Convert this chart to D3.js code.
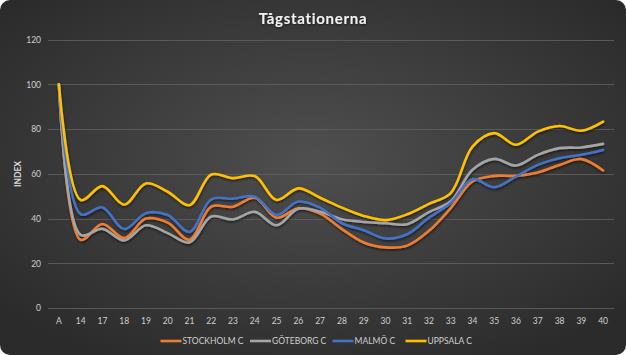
<!DOCTYPE html>
<html><head><meta charset="utf-8">
<script src="https://cdn.jsdelivr.net/npm/d3@7/dist/d3.min.js"></script>
<style>
html,body{margin:0;padding:0;background:#fff;}
svg{display:block;}
</style></head>
<body>
<svg id="chart" width="626" height="355"></svg>
<script>
const categories = ["A","14","17","18","19","20","21","22","23","24","25","26","27","28","29","30","31","32","33","34","35","36","37","38","39","40"];
const stockholm = [100,30.5,37.6,31.3,40,38.2,30.5,45.3,45.3,49.3,40.4,44.6,42.2,35.3,29.3,27.1,27.9,34.5,44.7,56.6,59.1,59.1,60.6,64,66.6,61.5];
const goteborg  = [100,32.7,35.4,30.2,37,33.5,29.3,40.9,39.6,43,37,44.4,43,39.7,38.5,37.9,37.5,42.9,47.7,61.8,66.7,63.7,68.5,71.5,71.8,73.4];
const malmo     = [100,42,45,35.3,42.4,41.6,34,48.6,48.9,49.8,41.6,47.6,44.9,37.9,34.8,31.1,33,40.4,47,57.6,54,58.8,64,67,68.5,70.7];
const uppsala   = [100,48.3,54.5,46.2,55.7,52,46,59.7,58.1,59,48.3,53.5,49.3,44.9,41.2,39.3,41.9,46.6,51.4,72.2,78.2,73,78.9,81.4,79.3,83.4];
const seriesNames = ["STOCKHOLM C","GÖTEBORG C","MALMÖ C","UPPSALA C"];
const seriesValues = [stockholm, goteborg, malmo, uppsala];
const seriesColors = ["#ED7D31","#A5A5A5","#4472C4","#FFC000"];
const yTicks = [0,20,40,60,80,100,120];
const title = "Tågstationerna";
const yTitle = "INDEX";

(function(){
const W = 626, H = 355;
const svg = d3.select("#chart");
const defs = svg.append("defs");
const grad = defs.append("radialGradient").attr("id","bg").attr("cx","50%").attr("cy","45%").attr("r","65%");
grad.append("stop").attr("offset","0%").attr("stop-color","#4f4f4f");
grad.append("stop").attr("offset","100%").attr("stop-color","#2b2b2b");
const f = defs.append("filter").attr("id","sh").attr("x","-5%").attr("y","-5%").attr("width","110%").attr("height","120%");
f.append("feDropShadow").attr("dx",0.5).attr("dy",1.5).attr("stdDeviation",1).attr("flood-color","#000").attr("flood-opacity",0.6);
const tf = defs.append("filter").attr("id","tsh").attr("x","-10%").attr("y","-30%").attr("width","120%").attr("height","160%");
tf.append("feDropShadow").attr("dx",0.5).attr("dy",1).attr("stdDeviation",0.8).attr("flood-color","#000").attr("flood-opacity",0.6);

svg.append("rect").attr("x",0).attr("y",0).attr("width",W).attr("height",H).attr("rx",10).attr("ry",10).attr("fill","url(#bg)");

const pLeft = 48, pRight = 614, pTop = 39.7, pBottom = 308;
const x = d3.scaleBand().domain(categories).range([pLeft,pRight]);
const y = d3.scaleLinear().domain([0,120]).range([pBottom,pTop]);
const font = "Lato, 'Open Sans', sans-serif";

svg.append("g").selectAll("line").data(yTicks).join("line")
  .attr("x1",pLeft).attr("x2",pRight)
  .attr("y1",d=>Math.round(y(d))+0.5).attr("y2",d=>Math.round(y(d))+0.5)
  .attr("stroke","#5e5e5e").attr("stroke-width",0.9);

const yAxis = d3.axisLeft(y).tickValues(yTicks).tickSize(0).tickPadding(0);
const gy = svg.append("g").attr("transform",`translate(${pLeft-7},0)`).call(yAxis);
gy.select(".domain").remove();
gy.selectAll("text").attr("fill","#d0d0d0").attr("font-family",font).attr("font-size","8.5px");

const xAxis = d3.axisBottom(x).tickSize(0).tickPadding(0);
const gx = svg.append("g").attr("transform",`translate(0,317.5)`).call(xAxis);
gx.select(".domain").remove();
gx.selectAll("text").attr("fill","#d0d0d0").attr("font-family",font).attr("font-size","8.5px");

const line = d3.line().x((d,i)=>x(categories[i])+x.bandwidth()/2).y(d=>y(d)).curve(d3.curveCatmullRom.alpha(0.5));
svg.append("g").attr("filter","url(#sh)").selectAll("path").data(seriesValues).join("path")
  .attr("d",d=>line(d)).attr("fill","none")
  .attr("stroke",(d,i)=>seriesColors[i]).attr("stroke-width",2.6)
  .attr("stroke-linejoin","round").attr("stroke-linecap","round");

svg.append("text").attr("x",313).attr("y",24).attr("text-anchor","middle")
  .attr("fill","#f2f2f2").attr("font-family",font).attr("font-weight","bold")
  .attr("font-size","15px").attr("letter-spacing","0.7px").attr("filter","url(#tsh)").text(title);

svg.append("text").attr("transform","translate(21,174) rotate(-90)").attr("text-anchor","middle")
  .attr("fill","#d9d9d9").attr("font-family",font).attr("font-weight","bold")
  .attr("font-size","8.5px").text(yTitle);

const legendX = [160.5, 250, 332.5, 405.5];
const lg = svg.append("g").selectAll("g").data(seriesNames).join("g")
  .attr("transform",(d,i)=>`translate(${legendX[i]},341)`);
lg.append("line").attr("x1",0).attr("x2",21).attr("y1",0).attr("y2",0)
  .attr("stroke",(d,i)=>seriesColors[i]).attr("stroke-width",2.6);
lg.append("text").attr("x",22).attr("y",3).attr("fill","#d0d0d0")
  .attr("font-family",font).attr("font-size","8.5px").text(d=>d);
})();
</script>
</body></html>
